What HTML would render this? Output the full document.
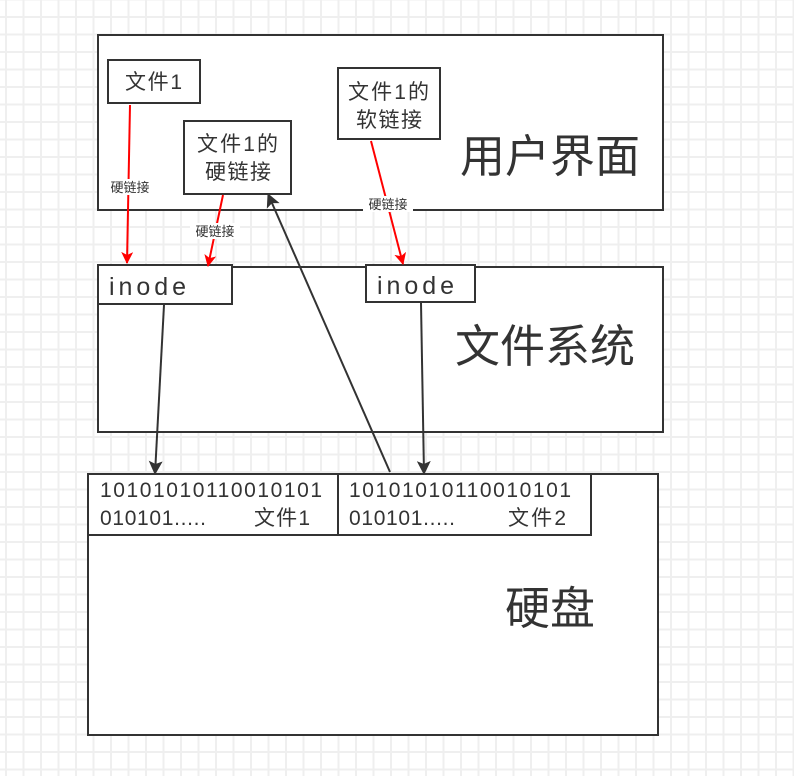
<!DOCTYPE html>
<html><head><meta charset="utf-8"><style>
html,body{margin:0;padding:0;background:#fff}
svg{display:block}
text{font-family:"Liberation Sans","Noto Sans CJK SC",sans-serif;fill:#333}
</style></head><body>
<svg width="794" height="776" viewBox="0 0 794 776" xmlns="http://www.w3.org/2000/svg">
<defs>
<pattern id="g" width="17.5" height="17.5" patternUnits="userSpaceOnUse" x="5" y="16">
<path d="M0 1H17.5M1 0V17.5" stroke="#efefef" stroke-width="2" fill="none"/>
</pattern>
<marker id="ar" markerWidth="12" markerHeight="12" refX="11" refY="6" orient="auto" markerUnits="userSpaceOnUse"><path d="M0 0L12 6L0 12L3 6z" fill="#f00"/></marker>
<marker id="ab" markerWidth="14" markerHeight="14" refX="13" refY="7" orient="auto" markerUnits="userSpaceOnUse"><path d="M0 0L14 7L0 14L3 7z" fill="#333"/></marker>
</defs>
<rect width="794" height="776" fill="url(#g)"/>
<g fill="#fff" stroke="#333" stroke-width="2">
<rect x="98" y="35" width="565" height="175"/>
<rect x="108" y="60" width="92" height="43"/>
<rect x="184" y="121" width="107" height="73"/>
<rect x="338" y="68" width="102" height="71"/>
<rect x="98" y="267" width="565" height="165"/>
<rect x="98" y="265" width="134" height="39"/>
<rect x="366" y="265" width="109" height="37"/>
<rect x="88" y="474" width="570" height="261"/>
<rect x="88" y="474" width="250" height="61"/>
<rect x="338" y="474" width="253" height="61"/>
</g>
<g stroke="#f00" stroke-width="2" fill="none">
<line x1="130" y1="105" x2="127" y2="263" marker-end="url(#ar)"/>
<line x1="223" y1="195" x2="208" y2="266" marker-end="url(#ar)"/>
<line x1="371" y1="141" x2="403" y2="264" marker-end="url(#ar)"/>
</g>
<g stroke="#333" stroke-width="2" fill="none">
<line x1="164" y1="305" x2="155" y2="474" marker-end="url(#ab)"/>
<line x1="421" y1="303" x2="424" y2="474" marker-end="url(#ab)"/>
<line x1="390" y1="472" x2="268" y2="194" marker-end="url(#ab)"/>
</g>
<g fill="#fff">
<rect x="105" y="179" width="50" height="16"/>
<rect x="190" y="223" width="50" height="16"/>
<rect x="363" y="196" width="50" height="16"/>
</g>
<g font-size="13" text-anchor="middle">
<text x="130" y="192">硬链接</text>
<text x="215" y="236">硬链接</text>
<text x="388" y="209">硬链接</text>
</g>
<g font-size="21">
<text x="125" y="89" textLength="57">文件1</text>
<text x="197" y="151" textLength="81">文件1的</text>
<text x="205" y="179" textLength="66">硬链接</text>
<text x="348" y="99" textLength="81">文件1的</text>
<text x="356" y="127" textLength="66">软链接</text>
</g>
<g font-size="25">
<text x="109" y="295" textLength="77">inode</text>
<text x="377" y="294" textLength="77">inode</text>
</g>
<g font-size="45">
<text x="460" y="172" textLength="180">用户界面</text>
<text x="455" y="362" textLength="180">文件系统</text>
<text x="505" y="624" textLength="90">硬盘</text>
</g>
<g font-size="21">
<text x="100" y="497" textLength="222">10101010110010101</text>
<text x="100" y="525" textLength="106">010101.....</text>
<text x="254" y="525" textLength="56">文件1</text>
<text x="349" y="497" textLength="222">10101010110010101</text>
<text x="349" y="525" textLength="106">010101.....</text>
<text x="508" y="525" textLength="58">文件2</text>
</g>
</svg>
</body></html>
